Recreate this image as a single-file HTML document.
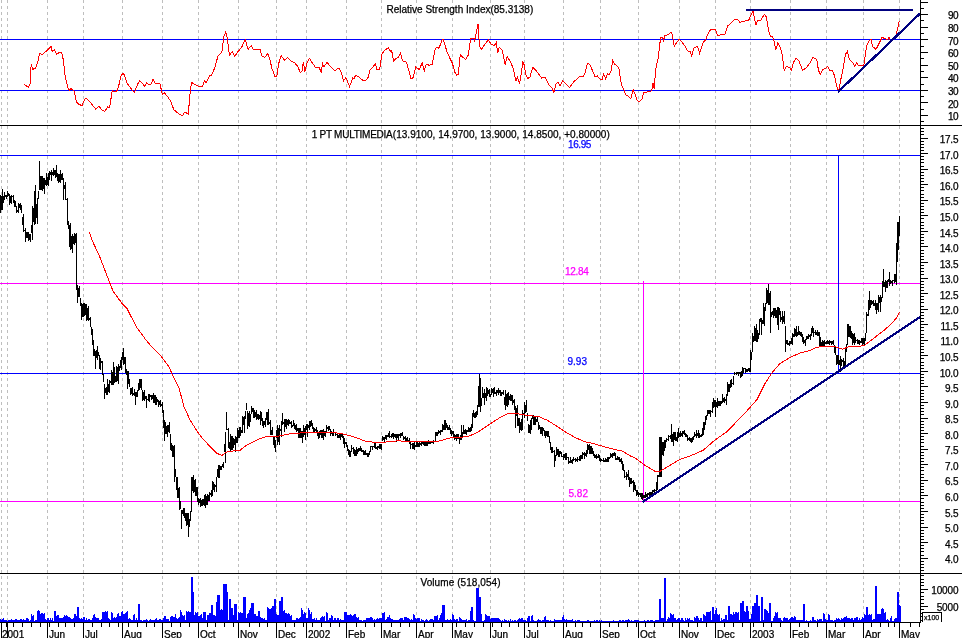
<!DOCTYPE html>
<html><head><meta charset="utf-8"><title>1 PT MULTIMEDIA</title>
<style>html,body{margin:0;padding:0;background:#fff}body{width:962px;height:638px;overflow:hidden;font-family:"Liberation Sans",sans-serif}</style>
</head><body>
<svg width="962" height="638" viewBox="0 0 962 638" shape-rendering="crispEdges" style="display:block;will-change:transform">
<rect x="0" y="0" width="962" height="638" fill="#ffffff"/>
<path d="M1.5,0V622M7.5,0V622M47.5,0V622M83.5,0V622M122.5,0V622M162.5,0V622M198.5,0V622M238.5,0V622M276.5,0V622M306.5,0V622M346.5,0V622M381.5,0V622M416.5,0V622M452.5,0V622M490.5,0V622M524.5,0V622M563.5,0V622M600.5,0V622M638.5,0V622M679.5,0V622M715.5,0V622M750.5,0V622M790.5,0V622M826.5,0V622M863.5,0V622M899.5,0V622" stroke="#bebebe" stroke-width="1" stroke-dasharray="3 3" fill="none"/>
<rect x="0" y="39" width="920" height="1" fill="#0000ff"/>
<rect x="0" y="90" width="920" height="1" fill="#0000ff"/>
<rect x="0" y="155" width="920" height="1" fill="#0000ff"/>
<rect x="0" y="373" width="920" height="1" fill="#0000ff"/>
<rect x="0" y="283" width="920" height="1" fill="#ff00ff"/>
<rect x="0" y="501" width="920" height="1" fill="#ff00ff"/>
<rect x="643" y="281" width="1" height="221" fill="#ff00ff"/>
<rect x="838" y="155" width="1" height="219" fill="#0000ff"/>
<path d="M0,622v-3h1v3zM1,622v-2h1v2zM2,622v-3h1v3zM3,622v-4h1v4zM4,622v-2h1v2zM5,622v-2h1v2zM6,622v-2h1v2zM7,622v-1h1v1zM8,622v-2h1v2zM9,622v-2h1v2zM10,622v-2h1v2zM11,622v-3h1v3zM12,622v-2h1v2zM13,622v-2h1v2zM14,622v-2h1v2zM15,622v-3h1v3zM16,622v-3h1v3zM17,622v-2h1v2zM18,622v-2h1v2zM19,622v-2h1v2zM20,622v-3h1v3zM21,622v-3h1v3zM22,622v-2h1v2zM23,622v-3h1v3zM24,622v-2h1v2zM25,622v-2h1v2zM26,622v-4h1v4zM27,622v-4h1v4zM28,622v-3h1v3zM29,622v-1h1v1zM30,622v-2h1v2zM31,622v-8h1v8zM32,622v-6h1v6zM33,622v-7h1v7zM34,622v-1h1v1zM35,622v-2h1v2zM36,622v-2h1v2zM37,622v-11h1v11zM38,622v-12h1v12zM39,622v-11h1v11zM40,622v-8h1v8zM41,622v-9h1v9zM42,622v-9h1v9zM43,622v-8h1v8zM44,622v-9h1v9zM45,622v-3h1v3zM46,622v-2h1v2zM47,622v-4h1v4zM48,622v-4h1v4zM49,622v-2h1v2zM50,622v-4h1v4zM51,622v-2h1v2zM52,622v-4h1v4zM53,622v-1h1v1zM54,622v-11h1v11zM55,622v-11h1v11zM56,622v-6h1v6zM57,622v-7h1v7zM58,622v-7h1v7zM59,622v-4h1v4zM60,622v-4h1v4zM61,622v-4h1v4zM62,622v-4h1v4zM63,622v-5h1v5zM64,622v-7h1v7zM65,622v-6h1v6zM66,622v-7h1v7zM67,622v-6h1v6zM68,622v-5h1v5zM69,622v-5h1v5zM70,622v-4h1v4zM71,622v-3h1v3zM72,622v-3h1v3zM73,622v-4h1v4zM74,622v-8h1v8zM75,622v-8h1v8zM76,622v-6h1v6zM77,622v-15h1v15zM78,622v-15h1v15zM79,622v-4h1v4zM80,622v-3h1v3zM81,622v-4h1v4zM82,622v-3h1v3zM83,622v-5h1v5zM84,622v-5h1v5zM85,622v-2h1v2zM86,622v-4h1v4zM87,622v-2h1v2zM88,622v-3h1v3zM89,622v-3h1v3zM90,622v-2h1v2zM91,622v-2h1v2zM92,622v-4h1v4zM93,622v-7h1v7zM94,622v-8h1v8zM95,622v-5h1v5zM96,622v-4h1v4zM97,622v-4h1v4zM98,622v-4h1v4zM99,622v-2h1v2zM100,622v-2h1v2zM101,622v-3h1v3zM102,622v-10h1v10zM103,622v-10h1v10zM104,622v-10h1v10zM105,622v-11h1v11zM106,622v-10h1v10zM107,622v-11h1v11zM108,622v-4h1v4zM109,622v-3h1v3zM110,622v-2h1v2zM111,622v-10h1v10zM112,622v-9h1v9zM113,622v-4h1v4zM114,622v-5h1v5zM115,622v-4h1v4zM116,622v-5h1v5zM117,622v-8h1v8zM118,622v-9h1v9zM119,622v-6h1v6zM120,622v-6h1v6zM121,622v-10h1v10zM122,622v-11h1v11zM123,622v-8h1v8zM124,622v-8h1v8zM125,622v-9h1v9zM126,622v-10h1v10zM127,622v-11h1v11zM128,622v-3h1v3zM129,622v-4h1v4zM130,622v-3h1v3zM131,622v-2h1v2zM132,622v-2h1v2zM133,622v-7h1v7zM134,622v-8h1v8zM135,622v-2h1v2zM136,622v-4h1v4zM137,622v-2h1v2zM138,622v-18h1v18zM139,622v-18h1v18zM140,622v-2h1v2zM141,622v-2h1v2zM142,622v-1h1v1zM143,622v-2h1v2zM144,622v-2h1v2zM145,622v-2h1v2zM146,622v-3h1v3zM147,622v-2h1v2zM148,622v-1h1v1zM149,622v-2h1v2zM150,622v-3h1v3zM151,622v-2h1v2zM152,622v-2h1v2zM153,622v-2h1v2zM154,622v-2h1v2zM155,622v-3h1v3zM156,622v-4h1v4zM157,622v-2h1v2zM158,622v-2h1v2zM159,622v-3h1v3zM160,622v-3h1v3zM161,622v-2h1v2zM162,622v-2h1v2zM163,622v-4h1v4zM164,622v-6h1v6zM165,622v-6h1v6zM166,622v-3h1v3zM167,622v-3h1v3zM168,622v-3h1v3zM169,622v-1h1v1zM170,622v-5h1v5zM171,622v-6h1v6zM172,622v-6h1v6zM173,622v-5h1v5zM174,622v-5h1v5zM175,622v-8h1v8zM176,622v-4h1v4zM177,622v-3h1v3zM178,622v-4h1v4zM179,622v-5h1v5zM180,622v-12h1v12zM181,622v-10h1v10zM182,622v-7h1v7zM183,622v-6h1v6zM184,622v-7h1v7zM185,622v-2h1v2zM186,622v-11h1v11zM187,622v-10h1v10zM188,622v-11h1v11zM189,622v-10h1v10zM190,622v-10h1v10zM191,622v-45h1v45zM192,622v-45h1v45zM193,622v-30h1v30zM194,622v-7h1v7zM195,622v-10h1v10zM196,622v-9h1v9zM197,622v-10h1v10zM198,622v-6h1v6zM199,622v-6h1v6zM200,622v-7h1v7zM201,622v-8h1v8zM202,622v-4h1v4zM203,622v-10h1v10zM204,622v-10h1v10zM205,622v-10h1v10zM206,622v-2h1v2zM207,622v-7h1v7zM208,622v-7h1v7zM209,622v-9h1v9zM210,622v-9h1v9zM211,622v-17h1v17zM212,622v-17h1v17zM213,622v-7h1v7zM214,622v-7h1v7zM215,622v-6h1v6zM216,622v-20h1v20zM217,622v-27h1v27zM218,622v-27h1v27zM219,622v-27h1v27zM220,622v-12h1v12zM221,622v-13h1v13zM222,622v-12h1v12zM223,622v-38h1v38zM224,622v-38h1v38zM225,622v-38h1v38zM226,622v-38h1v38zM227,622v-30h1v30zM228,622v-2h1v2zM229,622v-23h1v23zM230,622v-23h1v23zM231,622v-14h1v14zM232,622v-14h1v14zM233,622v-7h1v7zM234,622v-18h1v18zM235,622v-18h1v18zM236,622v-18h1v18zM237,622v-2h1v2zM238,622v-10h1v10zM239,622v-9h1v9zM240,622v-10h1v10zM241,622v-9h1v9zM242,622v-9h1v9zM243,622v-25h1v25zM244,622v-25h1v25zM245,622v-25h1v25zM246,622v-4h1v4zM247,622v-8h1v8zM248,622v-9h1v9zM249,622v-12h1v12zM250,622v-14h1v14zM251,622v-19h1v19zM252,622v-19h1v19zM253,622v-19h1v19zM254,622v-8h1v8zM255,622v-8h1v8zM256,622v-6h1v6zM257,622v-6h1v6zM258,622v-11h1v11zM259,622v-11h1v11zM260,622v-5h1v5zM261,622v-4h1v4zM262,622v-4h1v4zM263,622v-3h1v3zM264,622v-4h1v4zM265,622v-2h1v2zM266,622v-2h1v2zM267,622v-15h1v15zM268,622v-14h1v14zM269,622v-13h1v13zM270,622v-13h1v13zM271,622v-14h1v14zM272,622v-16h1v16zM273,622v-16h1v16zM274,622v-23h1v23zM275,622v-23h1v23zM276,622v-8h1v8zM277,622v-7h1v7zM278,622v-7h1v7zM279,622v-21h1v21zM280,622v-21h1v21zM281,622v-25h1v25zM282,622v-25h1v25zM283,622v-11h1v11zM284,622v-12h1v12zM285,622v-9h1v9zM286,622v-9h1v9zM287,622v-8h1v8zM288,622v-9h1v9zM289,622v-8h1v8zM290,622v-6h1v6zM291,622v-7h1v7zM292,622v-2h1v2zM293,622v-2h1v2zM294,622v-2h1v2zM295,622v-2h1v2zM296,622v-4h1v4zM297,622v-4h1v4zM298,622v-3h1v3zM299,622v-4h1v4zM300,622v-5h1v5zM301,622v-14h1v14zM302,622v-12h1v12zM303,622v-8h1v8zM304,622v-10h1v10zM305,622v-9h1v9zM306,622v-4h1v4zM307,622v-4h1v4zM308,622v-14h1v14zM309,622v-12h1v12zM310,622v-8h1v8zM311,622v-10h1v10zM312,622v-3h1v3zM313,622v-3h1v3zM314,622v-4h1v4zM315,622v-2h1v2zM316,622v-4h1v4zM317,622v-2h1v2zM318,622v-2h1v2zM319,622v-2h1v2zM320,622v-4h1v4zM321,622v-5h1v5zM322,622v-6h1v6zM323,622v-5h1v5zM324,622v-6h1v6zM325,622v-1h1v1zM326,622v-10h1v10zM327,622v-9h1v9zM328,622v-2h1v2zM329,622v-4h1v4zM330,622v-4h1v4zM331,622v-7h1v7zM332,622v-6h1v6zM333,622v-2h1v2zM334,622v-4h1v4zM335,622v-4h1v4zM336,622v-2h1v2zM337,622v-4h1v4zM338,622v-4h1v4zM339,622v-2h1v2zM340,622v-3h1v3zM341,622v-2h1v2zM342,622v-2h1v2zM343,622v-2h1v2zM344,622v-10h1v10zM345,622v-10h1v10zM346,622v-10h1v10zM347,622v-7h1v7zM348,622v-7h1v7zM349,622v-7h1v7zM350,622v-8h1v8zM351,622v-7h1v7zM352,622v-6h1v6zM353,622v-7h1v7zM354,622v-8h1v8zM355,622v-8h1v8zM356,622v-5h1v5zM357,622v-4h1v4zM358,622v-5h1v5zM359,622v-2h1v2zM360,622v-2h1v2zM361,622v-2h1v2zM362,622v-1h1v1zM363,622v-2h1v2zM364,622v-2h1v2zM365,622v-2h1v2zM366,622v-4h1v4zM367,622v-4h1v4zM368,622v-4h1v4zM369,622v-4h1v4zM370,622v-5h1v5zM371,622v-5h1v5zM372,622v-4h1v4zM373,622v-2h1v2zM374,622v-3h1v3zM375,622v-2h1v2zM376,622v-3h1v3zM377,622v-4h1v4zM378,622v-3h1v3zM379,622v-4h1v4zM380,622v-4h1v4zM381,622v-4h1v4zM382,622v-9h1v9zM383,622v-9h1v9zM384,622v-10h1v10zM385,622v-2h1v2zM386,622v-3h1v3zM387,622v-5h1v5zM388,622v-5h1v5zM389,622v-7h1v7zM390,622v-4h1v4zM391,622v-3h1v3zM392,622v-3h1v3zM393,622v-2h1v2zM394,622v-2h1v2zM395,622v-2h1v2zM396,622v-2h1v2zM397,622v-2h1v2zM398,622v-2h1v2zM399,622v-3h1v3zM400,622v-4h1v4zM401,622v-4h1v4zM402,622v-4h1v4zM403,622v-2h1v2zM404,622v-5h1v5zM405,622v-5h1v5zM406,622v-5h1v5zM407,622v-4h1v4zM408,622v-4h1v4zM409,622v-3h1v3zM410,622v-2h1v2zM411,622v-3h1v3zM412,622v-2h1v2zM413,622v-8h1v8zM414,622v-7h1v7zM415,622v-4h1v4zM416,622v-3h1v3zM417,622v-4h1v4zM418,622v-4h1v4zM419,622v-4h1v4zM420,622v-1h1v1zM421,622v-3h1v3zM422,622v-2h1v2zM423,622v-2h1v2zM424,622v-1h1v1zM425,622v-2h1v2zM426,622v-3h1v3zM427,622v-2h1v2zM428,622v-1h1v1zM429,622v-2h1v2zM430,622v-3h1v3zM431,622v-3h1v3zM432,622v-3h1v3zM433,622v-2h1v2zM434,622v-6h1v6zM435,622v-6h1v6zM436,622v-6h1v6zM437,622v-7h1v7zM438,622v-2h1v2zM439,622v-4h1v4zM440,622v-7h1v7zM441,622v-9h1v9zM442,622v-17h1v17zM443,622v-17h1v17zM444,622v-17h1v17zM445,622v-2h1v2zM446,622v-2h1v2zM447,622v-3h1v3zM448,622v-2h1v2zM449,622v-2h1v2zM450,622v-3h1v3zM451,622v-2h1v2zM452,622v-8h1v8zM453,622v-7h1v7zM454,622v-3h1v3zM455,622v-2h1v2zM456,622v-3h1v3zM457,622v-3h1v3zM458,622v-1h1v1zM459,622v-5h1v5zM460,622v-4h1v4zM461,622v-3h1v3zM462,622v-2h1v2zM463,622v-2h1v2zM464,622v-2h1v2zM465,622v-2h1v2zM466,622v-3h1v3zM467,622v-1h1v1zM468,622v-2h1v2zM469,622v-2h1v2zM470,622v-11h1v11zM471,622v-15h1v15zM472,622v-15h1v15zM473,622v-2h1v2zM474,622v-1h1v1zM475,622v-1h1v1zM476,622v-34h1v34zM477,622v-34h1v34zM478,622v-34h1v34zM479,622v-25h1v25zM480,622v-25h1v25zM481,622v-8h1v8zM482,622v-1h1v1zM483,622v-1h1v1zM484,622v-2h1v2zM485,622v-8h1v8zM486,622v-7h1v7zM487,622v-6h1v6zM488,622v-6h1v6zM489,622v-6h1v6zM490,622v-3h1v3zM491,622v-4h1v4zM492,622v-4h1v4zM493,622v-4h1v4zM494,622v-4h1v4zM495,622v-4h1v4zM496,622v-4h1v4zM497,622v-4h1v4zM498,622v-4h1v4zM499,622v-3h1v3zM500,622v-2h1v2zM501,622v-1h1v1zM502,622v-2h1v2zM503,622v-1h1v1zM504,622v-3h1v3zM505,622v-2h1v2zM506,622v-2h1v2zM507,622v-1h1v1zM508,622v-2h1v2zM509,622v-1h1v1zM510,622v-3h1v3zM511,622v-1h1v1zM512,622v-2h1v2zM513,622v-1h1v1zM514,622v-2h1v2zM515,622v-2h1v2zM516,622v-1h1v1zM517,622v-2h1v2zM518,622v-3h1v3zM519,622v-4h1v4zM520,622v-3h1v3zM521,622v-4h1v4zM522,622v-4h1v4zM523,622v-2h1v2zM524,622v-2h1v2zM525,622v-2h1v2zM526,622v-1h1v1zM527,622v-4h1v4zM528,622v-6h1v6zM529,622v-6h1v6zM530,622v-1h1v1zM531,622v-6h1v6zM532,622v-7h1v7zM533,622v-2h1v2zM534,622v-1h1v1zM535,622v-1h1v1zM536,622v-1h1v1zM537,622v-2h1v2zM538,622v-3h1v3zM539,622v-2h1v2zM540,622v-2h1v2zM541,622v-1h1v1zM542,622v-2h1v2zM543,622v-2h1v2zM544,622v-5h1v5zM545,622v-6h1v6zM546,622v-2h1v2zM547,622v-2h1v2zM548,622v-2h1v2zM549,622v-1h1v1zM550,622v-2h1v2zM551,622v-1h1v1zM552,622v-1h1v1zM553,622v-1h1v1zM554,622v-3h1v3zM555,622v-2h1v2zM556,622v-2h1v2zM557,622v-2h1v2zM558,622v-2h1v2zM559,622v-2h1v2zM560,622v-2h1v2zM561,622v-2h1v2zM562,622v-5h1v5zM563,622v-7h1v7zM564,622v-3h1v3zM565,622v-2h1v2zM566,622v-3h1v3zM567,622v-2h1v2zM568,622v-2h1v2zM569,622v-2h1v2zM570,622v-2h1v2zM571,622v-2h1v2zM572,622v-3h1v3zM573,622v-1h1v1zM574,622v-1h1v1zM575,622v-2h1v2zM576,622v-1h1v1zM577,622v-2h1v2zM578,622v-2h1v2zM579,622v-2h1v2zM580,622v-1h1v1zM581,622v-1h1v1zM582,622v-1h1v1zM583,622v-1h1v1zM584,622v-1h1v1zM585,622v-1h1v1zM586,622v-1h1v1zM587,622v-2h1v2zM588,622v-2h1v2zM589,622v-1h1v1zM590,622v-1h1v1zM591,622v-1h1v1zM592,622v-1h1v1zM593,622v-1h1v1zM594,622v-2h1v2zM595,622v-1h1v1zM596,622v-2h1v2zM597,622v-2h1v2zM598,622v-1h1v1zM599,622v-2h1v2zM600,622v-1h1v1zM601,622v-2h1v2zM602,622v-1h1v1zM603,622v-1h1v1zM604,622v-1h1v1zM605,622v-1h1v1zM606,622v-1h1v1zM607,622v-1h1v1zM608,622v-1h1v1zM609,622v-1h1v1zM610,622v-1h1v1zM611,622v-1h1v1zM612,622v-1h1v1zM613,622v-2h1v2zM614,622v-1h1v1zM615,622v-1h1v1zM616,622v-1h1v1zM617,622v-1h1v1zM618,622v-1h1v1zM619,622v-2h1v2zM620,622v-2h1v2zM621,622v-1h1v1zM622,622v-2h1v2zM623,622v-2h1v2zM624,622v-1h1v1zM625,622v-2h1v2zM626,622v-2h1v2zM627,622v-2h1v2zM628,622v-3h1v3zM629,622v-2h1v2zM630,622v-1h1v1zM631,622v-2h1v2zM632,622v-1h1v1zM633,622v-1h1v1zM634,622v-2h1v2zM635,622v-2h1v2zM636,622v-2h1v2zM637,622v-2h1v2zM638,622v-2h1v2zM639,622v-1h1v1zM640,622v-1h1v1zM641,622v-1h1v1zM642,622v-1h1v1zM643,622v-1h1v1zM644,622v-2h1v2zM645,622v-1h1v1zM646,622v-1h1v1zM647,622v-2h1v2zM648,622v-2h1v2zM649,622v-1h1v1zM650,622v-2h1v2zM651,622v-2h1v2zM652,622v-2h1v2zM653,622v-1h1v1zM654,622v-1h1v1zM655,622v-2h1v2zM656,622v-2h1v2zM657,622v-2h1v2zM658,622v-2h1v2zM659,622v-23h1v23zM660,622v-23h1v23zM661,622v-4h1v4zM662,622v-4h1v4zM663,622v-4h1v4zM664,622v-44h1v44zM665,622v-44h1v44zM666,622v-1h1v1zM667,622v-3h1v3zM668,622v-5h1v5zM669,622v-4h1v4zM670,622v-9h1v9zM671,622v-8h1v8zM672,622v-7h1v7zM673,622v-8h1v8zM674,622v-4h1v4zM675,622v-4h1v4zM676,622v-2h1v2zM677,622v-3h1v3zM678,622v-4h1v4zM679,622v-4h1v4zM680,622v-2h1v2zM681,622v-4h1v4zM682,622v-4h1v4zM683,622v-2h1v2zM684,622v-1h1v1zM685,622v-4h1v4zM686,622v-2h1v2zM687,622v-4h1v4zM688,622v-3h1v3zM689,622v-4h1v4zM690,622v-2h1v2zM691,622v-2h1v2zM692,622v-2h1v2zM693,622v-1h1v1zM694,622v-5h1v5zM695,622v-4h1v4zM696,622v-6h1v6zM697,622v-6h1v6zM698,622v-4h1v4zM699,622v-2h1v2zM700,622v-4h1v4zM701,622v-4h1v4zM702,622v-1h1v1zM703,622v-8h1v8zM704,622v-7h1v7zM705,622v-6h1v6zM706,622v-10h1v10zM707,622v-10h1v10zM708,622v-10h1v10zM709,622v-10h1v10zM710,622v-11h1v11zM711,622v-2h1v2zM712,622v-15h1v15zM713,622v-15h1v15zM714,622v-8h1v8zM715,622v-12h1v12zM716,622v-14h1v14zM717,622v-8h1v8zM718,622v-7h1v7zM719,622v-8h1v8zM720,622v-1h1v1zM721,622v-4h1v4zM722,622v-2h1v2zM723,622v-3h1v3zM724,622v-3h1v3zM725,622v-7h1v7zM726,622v-7h1v7zM727,622v-2h1v2zM728,622v-16h1v16zM729,622v-16h1v16zM730,622v-8h1v8zM731,622v-8h1v8zM732,622v-7h1v7zM733,622v-10h1v10zM734,622v-8h1v8zM735,622v-10h1v10zM736,622v-10h1v10zM737,622v-9h1v9zM738,622v-10h1v10zM739,622v-2h1v2zM740,622v-19h1v19zM741,622v-19h1v19zM742,622v-21h1v21zM743,622v-21h1v21zM744,622v-11h1v11zM745,622v-10h1v10zM746,622v-16h1v16zM747,622v-16h1v16zM748,622v-11h1v11zM749,622v-3h1v3zM750,622v-3h1v3zM751,622v-8h1v8zM752,622v-16h1v16zM753,622v-16h1v16zM754,622v-19h1v19zM755,622v-19h1v19zM756,622v-27h1v27zM757,622v-27h1v27zM758,622v-16h1v16zM759,622v-16h1v16zM760,622v-1h1v1zM761,622v-25h1v25zM762,622v-25h1v25zM763,622v-2h1v2zM764,622v-13h1v13zM765,622v-13h1v13zM766,622v-12h1v12zM767,622v-11h1v11zM768,622v-9h1v9zM769,622v-19h1v19zM770,622v-19h1v19zM771,622v-1h1v1zM772,622v-1h1v1zM773,622v-4h1v4zM774,622v-6h1v6zM775,622v-10h1v10zM776,622v-9h1v9zM777,622v-10h1v10zM778,622v-4h1v4zM779,622v-4h1v4zM780,622v-4h1v4zM781,622v-2h1v2zM782,622v-1h1v1zM783,622v-4h1v4zM784,622v-5h1v5zM785,622v-4h1v4zM786,622v-4h1v4zM787,622v-4h1v4zM788,622v-2h1v2zM789,622v-3h1v3zM790,622v-4h1v4zM791,622v-5h1v5zM792,622v-5h1v5zM793,622v-4h1v4zM794,622v-6h1v6zM795,622v-5h1v5zM796,622v-2h1v2zM797,622v-2h1v2zM798,622v-2h1v2zM799,622v-2h1v2zM800,622v-2h1v2zM801,622v-2h1v2zM802,622v-2h1v2zM803,622v-18h1v18zM804,622v-18h1v18zM805,622v-1h1v1zM806,622v-2h1v2zM807,622v-1h1v1zM808,622v-1h1v1zM809,622v-1h1v1zM810,622v-2h1v2zM811,622v-1h1v1zM812,622v-5h1v5zM813,622v-5h1v5zM814,622v-2h1v2zM815,622v-2h1v2zM816,622v-1h1v1zM817,622v-3h1v3zM818,622v-2h1v2zM819,622v-3h1v3zM820,622v-3h1v3zM821,622v-3h1v3zM822,622v-1h1v1zM823,622v-9h1v9zM824,622v-8h1v8zM825,622v-3h1v3zM826,622v-2h1v2zM827,622v-2h1v2zM828,622v-8h1v8zM829,622v-7h1v7zM830,622v-2h1v2zM831,622v-2h1v2zM832,622v-2h1v2zM833,622v-1h1v1zM834,622v-2h1v2zM835,622v-2h1v2zM836,622v-4h1v4zM837,622v-3h1v3zM838,622v-4h1v4zM839,622v-3h1v3zM840,622v-2h1v2zM841,622v-4h1v4zM842,622v-3h1v3zM843,622v-4h1v4zM844,622v-5h1v5zM845,622v-5h1v5zM846,622v-6h1v6zM847,622v-4h1v4zM848,622v-4h1v4zM849,622v-4h1v4zM850,622v-3h1v3zM851,622v-4h1v4zM852,622v-4h1v4zM853,622v-2h1v2zM854,622v-4h1v4zM855,622v-4h1v4zM856,622v-5h1v5zM857,622v-5h1v5zM858,622v-2h1v2zM859,622v-4h1v4zM860,622v-2h1v2zM861,622v-3h1v3zM862,622v-5h1v5zM863,622v-4h1v4zM864,622v-8h1v8zM865,622v-7h1v7zM866,622v-15h1v15zM867,622v-15h1v15zM868,622v-7h1v7zM869,622v-8h1v8zM870,622v-7h1v7zM871,622v-8h1v8zM872,622v-2h1v2zM873,622v-3h1v3zM874,622v-3h1v3zM875,622v-36h1v36zM876,622v-36h1v36zM877,622v-8h1v8zM878,622v-8h1v8zM879,622v-8h1v8zM880,622v-8h1v8zM881,622v-13h1v13zM882,622v-14h1v14zM883,622v-13h1v13zM884,622v-9h1v9zM885,622v-10h1v10zM886,622v-2h1v2zM887,622v-3h1v3zM888,622v-2h1v2zM889,622v-1h1v1zM890,622v-4h1v4zM891,622v-6h1v6zM892,622v-1h1v1zM893,622v-1h1v1zM894,622v-3h1v3zM895,622v-4h1v4zM896,622v-4h1v4zM897,622v-30h1v30zM898,622v-30h1v30zM899,622v-17h1v17zM900,622v-16h1v16z" fill="#0000ff" stroke="none"/>
<polyline points="24.1,84.3 28.6,87.3 30.0,84.0 31.2,64.2 32.6,69.5 35.5,68.0 37.5,63.2 39.5,53.7 42.5,54.3 46.4,51.0 49.4,48.0 51.0,46.4 52.3,51.7 54.3,49.4 56.9,54.3 59.3,52.3 61.6,52.3 63.2,59.3 65.2,77.0 68.1,87.9 69.1,90.5 71.1,88.5 74.1,91.2 76.6,102.3 79.0,104.3 82.0,105.7 85.3,98.2 87.9,99.7 90.9,103.1 95.8,109.2 98.8,106.3 101.7,109.6 104.7,111.6 107.6,106.7 109.6,107.6 112.2,90.9 116.5,91.8 118.5,86.9 120.9,76.0 122.9,73.1 124.4,75.1 127.4,83.9 131.3,88.9 134.3,92.4 137.3,84.9 139.6,80.6 142.2,83.0 144.6,86.5 146.6,82.6 148.5,84.5 151.1,83.9 153.1,79.4 155.0,83.0 158.0,83.5 160.0,83.9 162.4,94.8 164.3,92.8 167.9,96.8 170.8,101.7 173.8,109.6 176.8,112.2 179.7,114.6 182.7,115.5 184.1,112.6 186.6,113.0 188.3,114.2 189.9,94.8 191.5,82.4 194.8,84.5 198.8,86.5 202.1,86.9 204.7,80.6 206.1,83.0 209.6,75.4 211.6,75.1 214.6,68.1 217.9,56.3 221.9,52.3 223.8,36.5 225.8,32.0 227.4,38.5 229.4,55.3 232.3,51.7 234.9,56.3 237.3,52.3 241.6,47.4 245.2,39.5 248.1,49.4 251.1,45.8 253.1,49.0 258.0,49.4 260.0,49.4 262.0,56.3 264.9,57.3 267.9,53.3 269.9,59.3 271.8,68.1 274.8,76.0 276.8,76.0 278.8,63.2 281.1,55.7 284.7,60.2 287.6,57.3 291.6,61.6 294.6,62.8 297.5,66.2 300.5,72.7 302.1,70.7 303.4,61.6 304.8,72.1 306.8,63.2 309.4,58.3 312.3,62.8 315.3,67.2 319.2,67.7 321.2,72.1 322.6,63.6 323.8,66.8 327.1,62.2 330.1,66.2 335.0,71.1 337.0,68.7 339.6,68.7 341.6,73.5 343.5,81.0 345.9,77.4 349.5,86.5 351.4,82.0 352.8,78.0 353.8,79.0 355.8,75.1 358.7,77.0 362.4,80.0 365.5,80.6 367.9,78.0 369.9,70.1 372.8,67.2 375.4,63.6 376.8,69.5 379.8,69.1 381.7,54.3 384.7,50.4 388.6,47.4 390.0,51.4 391.6,50.4 393.6,60.8 395.6,58.9 398.5,57.3 400.5,53.3 402.5,60.8 406.4,62.2 409.0,71.1 411.0,79.0 412.9,78.0 415.7,67.2 419.3,69.5 422.2,62.8 424.2,71.1 426.2,64.2 429.1,65.2 432.1,64.2 435.1,49.4 437.0,47.0 439.0,48.4 442.0,39.9 443.3,39.9 446.9,51.4 449.9,58.3 452.4,63.2 454.8,72.1 456.8,75.1 458.2,74.7 460.3,54.3 462.7,57.3 465.7,59.3 468.2,55.3 470.6,38.5 473.6,38.1 474.6,40.5 476.5,31.6 478.1,24.1 479.5,46.4 481.5,49.4 485.4,43.5 488.4,39.9 491.3,44.4 494.3,45.4 496.3,42.5 497.7,53.3 499.2,47.4 502.2,50.4 505.2,65.2 507.1,56.3 510.1,61.2 513.1,68.1 516.0,81.0 517.4,77.0 519.6,83.4 521.0,75.1 522.9,62.2 524.3,65.2 525.9,75.1 527.9,78.6 529.9,77.0 532.8,67.5 535.8,70.1 538.7,74.1 541.7,78.0 543.0,77.0 545.5,78.0 548.9,84.9 551.9,87.9 553.8,92.4 555.8,84.5 557.8,82.0 559.8,85.9 562.7,81.0 565.7,83.9 569.6,87.3 573.6,82.0 579.5,76.6 583.5,76.0 585.4,72.1 587.4,63.6 589.8,64.2 592.3,70.1 594.9,76.6 597.3,76.0 600.2,79.0 602.2,79.0 603.6,74.1 605.8,79.0 607.5,73.5 609.1,74.7 611.1,71.1 612.7,60.2 614.7,64.2 617.4,66.2 619.0,69.1 621.4,84.9 623.9,89.9 625.9,94.8 628.9,96.8 630.9,98.8 633.2,89.3 634.8,93.8 636.8,99.7 638.8,101.7 641.7,99.7 643.7,92.8 647.6,91.8 651.6,90.9 653.0,83.4 654.2,88.9 655.5,71.1 656.9,63.2 658.5,57.3 659.5,45.4 660.9,37.5 662.5,37.1 663.4,40.5 664.8,35.9 668.4,34.6 670.8,32.2 672.3,34.6 674.3,46.4 676.7,42.5 679.2,39.1 682.2,42.5 685.2,46.4 687.7,51.0 690.1,51.7 691.7,55.7 694.1,47.4 696.0,47.0 697.6,46.4 699.6,53.3 701.6,47.4 703.5,41.5 705.5,40.5 707.5,34.6 710.3,30.0 712.8,29.2 715.4,29.6 717.4,35.2 719.7,35.2 722.7,34.0 724.9,34.6 727.9,25.7 730.9,23.3 734.8,19.4 737.8,19.8 739.8,22.3 743.7,21.3 748.6,20.3 751.2,14.8 753.0,11.3 754.6,18.8 755.9,24.7 757.9,20.1 760.5,20.7 764.4,14.4 766.4,16.8 768.4,29.6 770.4,36.5 772.3,36.1 774.3,41.5 775.7,50.4 777.7,43.1 780.2,47.4 782.2,54.3 784.2,70.1 786.2,66.8 789.1,67.2 791.5,70.1 793.5,62.2 796.0,58.3 799.0,61.2 802.6,70.1 805.9,68.1 809.9,63.2 812.8,57.3 816.8,59.3 818.4,70.1 820.3,74.7 822.7,69.5 825.7,68.1 827.6,66.2 829.6,70.7 832.2,70.1 834.6,76.0 836.5,84.9 838.5,91.8 840.9,79.0 843.4,67.2 845.4,54.3 847.4,51.4 849.4,59.3 852.7,62.8 854.9,66.2 856.7,62.8 858.3,65.2 863.8,66.2 865.2,55.3 866.6,46.4 868.5,41.5 871.1,39.1 872.5,46.4 876.0,49.4 879.0,43.5 882.0,37.5 884.9,38.5 887.5,39.5 889.1,37.1 890.8,42.5 893.8,39.5 896.2,35.2 897.8,27.7 899.3,20.7" fill="none" stroke="#ff0000" stroke-width="1"/>
<path d="M0,195h1v18h-1zM1,196h1v14h-1zM2,189h1v21h-1zM3,196h1v7h-1zM4,192h1v8h-1zM5,195h1v2h-1zM6,195h1v4h-1zM7,191h1v6h-1zM8,193h1v3h-1zM9,194h1v11h-1zM10,196h1v7h-1zM11,195h1v9h-1zM12,196h1v1h-1zM13,195h1v8h-1zM14,200h1v7h-1zM15,201h1v6h-1zM16,206h1v7h-1zM17,210h1v2h-1zM18,203h1v10h-1zM19,204h1v4h-1zM20,203h1v7h-1zM21,205h1v8h-1zM22,217h1v8h-1zM23,214h1v18h-1zM24,230h1v1h-1zM25,228h1v14h-1zM26,232h1v6h-1zM27,232h1v6h-1zM28,232h1v9h-1zM29,234h1v6h-1zM30,234h1v8h-1zM31,225h1v8h-1zM32,206h1v34h-1zM33,208h1v14h-1zM34,191h1v34h-1zM35,185h1v39h-1zM36,204h1v14h-1zM37,198h1v26h-1zM38,191h1v8h-1zM39,161h1v29h-1zM40,176h1v14h-1zM41,176h1v14h-1zM42,176h1v15h-1zM43,178h1v11h-1zM44,178h1v16h-1zM45,180h1v5h-1zM46,173h1v13h-1zM47,177h1v8h-1zM48,173h1v13h-1zM49,171h1v9h-1zM50,172h1v3h-1zM51,170h1v11h-1zM52,172h1v3h-1zM53,168h1v8h-1zM54,170h1v5h-1zM55,170h1v8h-1zM56,165h1v12h-1zM57,173h1v8h-1zM58,174h1v9h-1zM59,174h1v8h-1zM60,170h1v13h-1zM61,174h1v6h-1zM62,173h1v7h-1zM63,178h1v22h-1zM64,185h1v4h-1zM65,182h1v18h-1zM66,199h1v1h-1zM67,198h1v27h-1zM68,221h1v8h-1zM69,225h1v22h-1zM70,223h1v27h-1zM71,236h1v13h-1zM72,234h1v19h-1zM73,236h1v8h-1zM74,233h1v12h-1zM75,234h1v9h-1zM76,233h1v20h-1zM76,250h1v40h-1zM77,285h1v18h-1zM78,288h1v9h-1zM79,286h1v11h-1zM80,298h1v8h-1zM81,303h1v17h-1zM82,304h1v13h-1zM83,303h1v14h-1zM84,303h1v13h-1zM85,304h1v11h-1zM86,304h1v17h-1zM87,308h1v12h-1zM88,306h1v15h-1zM89,318h1v2h-1zM90,317h1v10h-1zM91,327h1v8h-1zM92,329h1v16h-1zM93,340h1v16h-1zM94,349h1v7h-1zM95,351h1v18h-1zM96,350h1v8h-1zM97,346h1v14h-1zM98,352h1v4h-1zM99,355h1v14h-1zM100,358h1v12h-1zM101,361h1v2h-1zM102,361h1v14h-1zM103,374h1v8h-1zM104,384h1v15h-1zM105,388h1v5h-1zM106,387h1v8h-1zM107,379h1v16h-1zM108,384h1v8h-1zM109,380h1v13h-1zM110,381h1v2h-1zM111,370h1v15h-1zM112,372h1v13h-1zM113,362h1v23h-1zM114,367h1v16h-1zM115,376h1v6h-1zM116,366h1v16h-1zM117,367h1v14h-1zM118,364h1v20h-1zM119,366h1v5h-1zM120,360h1v8h-1zM121,357h1v13h-1zM122,352h1v8h-1zM123,348h1v17h-1zM124,357h1v7h-1zM125,357h1v16h-1zM126,369h1v6h-1zM127,371h1v18h-1zM128,371h1v13h-1zM129,379h1v8h-1zM130,388h1v7h-1zM131,388h1v6h-1zM132,387h1v9h-1zM133,393h1v2h-1zM134,389h1v7h-1zM135,392h1v13h-1zM136,392h1v5h-1zM137,390h1v7h-1zM138,383h1v8h-1zM139,379h1v11h-1zM140,379h1v9h-1zM141,379h1v11h-1zM142,390h1v11h-1zM143,392h1v8h-1zM144,390h1v11h-1zM145,396h1v3h-1zM146,396h1v12h-1zM147,399h1v1h-1zM148,394h1v7h-1zM149,394h1v8h-1zM150,395h1v2h-1zM151,395h1v5h-1zM152,395h1v4h-1zM153,393h1v10h-1zM154,395h1v8h-1zM155,395h1v10h-1zM156,397h1v8h-1zM157,399h1v3h-1zM158,400h1v7h-1zM159,401h1v4h-1zM160,400h1v7h-1zM161,404h1v2h-1zM162,402h1v11h-1zM163,410h1v18h-1zM164,420h1v21h-1zM165,422h1v12h-1zM166,426h1v8h-1zM167,425h1v12h-1zM168,425h1v7h-1zM169,422h1v11h-1zM170,434h1v16h-1zM171,443h1v8h-1zM172,445h1v12h-1zM173,446h1v11h-1zM174,445h1v12h-1zM174,452h1v30h-1zM175,469h1v8h-1zM176,477h1v13h-1zM177,477h1v21h-1zM178,488h1v10h-1zM179,487h1v23h-1zM180,501h1v8h-1zM181,510h1v19h-1zM182,510h1v4h-1zM183,508h1v8h-1zM184,508h1v10h-1zM185,513h1v8h-1zM186,513h1v13h-1zM187,513h1v12h-1zM188,513h1v13h-1zM188,524h1v13h-1zM189,519h1v8h-1zM190,511h1v10h-1zM191,477h1v35h-1zM192,477h1v14h-1zM193,475h1v18h-1zM194,480h1v12h-1zM195,479h1v17h-1zM196,487h1v9h-1zM197,487h1v15h-1zM198,498h1v7h-1zM199,499h1v4h-1zM200,498h1v9h-1zM201,500h1v6h-1zM202,499h1v7h-1zM203,499h1v6h-1zM204,495h1v11h-1zM205,494h1v14h-1zM206,496h1v9h-1zM207,494h1v11h-1zM208,495h1v6h-1zM209,492h1v9h-1zM210,493h1v2h-1zM211,490h1v7h-1zM212,481h1v15h-1zM213,482h1v8h-1zM214,484h1v8h-1zM215,485h1v2h-1zM216,484h1v8h-1zM216,477h1v9h-1zM217,469h1v8h-1zM218,465h1v13h-1zM219,465h1v13h-1zM220,466h1v4h-1zM221,466h1v4h-1zM222,464h1v3h-1zM223,462h1v6h-1zM224,444h1v8h-1zM225,432h1v31h-1zM226,412h1v18h-1zM227,429h1v1h-1zM228,428h1v20h-1zM229,442h1v7h-1zM230,434h1v18h-1zM231,436h1v14h-1zM232,436h1v14h-1zM233,438h1v10h-1zM234,439h1v6h-1zM235,436h1v16h-1zM236,437h1v6h-1zM237,428h1v15h-1zM238,430h1v8h-1zM239,427h1v11h-1zM240,427h1v9h-1zM241,430h1v3h-1zM242,416h1v17h-1zM243,417h1v8h-1zM244,416h1v17h-1zM245,411h1v8h-1zM246,403h1v7h-1zM247,411h1v18h-1zM248,413h1v13h-1zM249,411h1v16h-1zM250,414h1v8h-1zM251,406h1v8h-1zM252,408h1v4h-1zM253,408h1v10h-1zM254,410h1v8h-1zM255,412h1v5h-1zM256,410h1v10h-1zM257,414h1v5h-1zM258,414h1v6h-1zM259,415h1v4h-1zM260,411h1v14h-1zM261,412h1v9h-1zM262,418h1v8h-1zM263,421h1v7h-1zM264,421h1v4h-1zM265,418h1v9h-1zM266,412h1v8h-1zM267,412h1v13h-1zM268,409h1v16h-1zM269,422h1v2h-1zM270,420h1v15h-1zM271,430h1v5h-1zM272,427h1v8h-1zM273,437h1v8h-1zM274,436h1v12h-1zM275,440h1v12h-1zM276,430h1v8h-1zM277,425h1v20h-1zM278,428h1v14h-1zM279,425h1v20h-1zM280,429h1v2h-1zM281,421h1v16h-1zM282,413h1v12h-1zM283,422h1v2h-1zM284,419h1v13h-1zM285,419h1v8h-1zM286,419h1v10h-1zM287,420h1v5h-1zM288,419h1v7h-1zM289,420h1v4h-1zM290,422h1v2h-1zM291,421h1v7h-1zM292,425h1v2h-1zM293,420h1v6h-1zM294,423h1v6h-1zM295,425h1v5h-1zM296,424h1v8h-1zM297,428h1v3h-1zM298,428h1v10h-1zM299,428h1v10h-1zM300,428h1v10h-1zM301,431h1v7h-1zM302,431h1v12h-1zM303,425h1v12h-1zM304,428h1v7h-1zM305,426h1v14h-1zM306,424h1v6h-1zM307,424h1v13h-1zM308,425h1v3h-1zM309,421h1v9h-1zM310,421h1v6h-1zM311,420h1v6h-1zM312,423h1v6h-1zM313,427h1v5h-1zM314,428h1v4h-1zM315,429h1v2h-1zM316,427h1v5h-1zM317,430h1v6h-1zM318,432h1v7h-1zM319,431h1v7h-1zM320,430h1v5h-1zM321,430h1v8h-1zM322,430h1v8h-1zM323,429h1v11h-1zM324,431h1v5h-1zM325,431h1v6h-1zM326,425h1v7h-1zM327,427h1v2h-1zM328,426h1v5h-1zM329,426h1v4h-1zM330,429h1v7h-1zM331,431h1v3h-1zM332,432h1v4h-1zM333,429h1v7h-1zM334,432h1v1h-1zM335,432h1v4h-1zM336,434h1v1h-1zM337,433h1v5h-1zM338,435h1v3h-1zM339,433h1v5h-1zM340,434h1v6h-1zM341,434h1v3h-1zM342,434h1v4h-1zM343,436h1v8h-1zM344,438h1v10h-1zM345,442h1v2h-1zM346,442h1v5h-1zM347,445h1v6h-1zM348,449h1v6h-1zM349,450h1v7h-1zM350,451h1v6h-1zM351,445h1v7h-1zM352,448h1v1h-1zM353,447h1v7h-1zM354,449h1v7h-1zM355,450h1v6h-1zM356,447h1v9h-1zM357,449h1v5h-1zM358,448h1v4h-1zM359,448h1v3h-1zM360,446h1v5h-1zM361,448h1v4h-1zM362,450h1v2h-1zM363,450h1v5h-1zM364,451h1v4h-1zM365,450h1v5h-1zM366,453h1v2h-1zM367,453h1v4h-1zM368,453h1v4h-1zM369,451h1v4h-1zM370,446h1v6h-1zM371,446h1v1h-1zM372,446h1v4h-1zM373,446h1v1h-1zM374,442h1v6h-1zM375,443h1v6h-1zM376,447h1v2h-1zM377,446h1v4h-1zM378,446h1v2h-1zM379,444h1v5h-1zM380,444h1v5h-1zM381,444h1v6h-1zM382,436h1v5h-1zM383,437h1v3h-1zM384,437h1v5h-1zM385,435h1v4h-1zM386,435h1v5h-1zM387,435h1v2h-1zM388,433h1v4h-1zM389,431h1v7h-1zM390,436h1v1h-1zM391,434h1v4h-1zM392,433h1v4h-1zM393,433h1v6h-1zM394,434h1v3h-1zM395,434h1v4h-1zM396,434h1v8h-1zM397,434h1v4h-1zM398,434h1v6h-1zM399,434h1v2h-1zM400,433h1v5h-1zM401,433h1v3h-1zM402,432h1v4h-1zM403,436h1v4h-1zM404,437h1v2h-1zM405,436h1v5h-1zM406,438h1v3h-1zM407,437h1v4h-1zM408,440h1v2h-1zM409,438h1v6h-1zM410,442h1v7h-1zM411,444h1v1h-1zM412,443h1v6h-1zM413,443h1v6h-1zM414,442h1v8h-1zM415,445h1v2h-1zM416,442h1v5h-1zM417,442h1v5h-1zM418,443h1v4h-1zM419,442h1v5h-1zM420,443h1v2h-1zM421,441h1v5h-1zM422,442h1v2h-1zM423,441h1v4h-1zM424,441h1v5h-1zM425,442h1v4h-1zM426,441h1v5h-1zM427,441h1v5h-1zM428,440h1v4h-1zM429,441h1v3h-1zM430,441h1v3h-1zM431,441h1v2h-1zM432,441h1v2h-1zM433,440h1v4h-1zM434,441h1v1h-1zM435,432h1v10h-1zM436,432h1v4h-1zM437,432h1v4h-1zM438,430h1v4h-1zM439,431h1v2h-1zM440,430h1v5h-1zM441,430h1v2h-1zM442,424h1v8h-1zM443,425h1v5h-1zM444,420h1v10h-1zM445,420h1v10h-1zM446,423h1v5h-1zM447,425h1v5h-1zM448,427h1v3h-1zM449,425h1v5h-1zM450,428h1v6h-1zM451,430h1v6h-1zM452,431h1v3h-1zM453,431h1v6h-1zM454,434h1v6h-1zM455,435h1v4h-1zM456,434h1v7h-1zM457,434h1v5h-1zM458,434h1v5h-1zM459,437h1v7h-1zM460,435h1v5h-1zM461,425h1v15h-1zM462,432h1v5h-1zM463,425h1v9h-1zM464,430h1v4h-1zM465,429h1v5h-1zM466,430h1v5h-1zM467,430h1v2h-1zM468,427h1v5h-1zM469,428h1v4h-1zM470,427h1v5h-1zM471,424h1v7h-1zM472,413h1v15h-1zM473,410h1v7h-1zM474,413h1v5h-1zM475,412h1v6h-1zM476,411h1v6h-1zM477,405h1v10h-1zM478,405h1v2h-1zM478,386h1v21h-1zM479,374h1v33h-1zM479,374h1v33h-1zM480,378h1v34h-1zM480,380h1v32h-1zM481,398h1v8h-1zM482,387h1v11h-1zM483,393h1v5h-1zM484,389h1v16h-1zM485,393h1v5h-1zM486,387h1v14h-1zM487,388h1v8h-1zM488,390h1v4h-1zM489,389h1v8h-1zM490,394h1v3h-1zM491,388h1v7h-1zM492,389h1v4h-1zM493,388h1v9h-1zM494,387h1v7h-1zM495,392h1v2h-1zM496,390h1v6h-1zM497,390h1v3h-1zM498,388h1v7h-1zM499,390h1v3h-1zM500,390h1v6h-1zM501,392h1v4h-1zM502,392h1v2h-1zM503,390h1v5h-1zM504,397h1v8h-1zM505,390h1v20h-1zM506,394h1v12h-1zM507,393h1v14h-1zM508,392h1v13h-1zM509,396h1v4h-1zM510,394h1v7h-1zM511,395h1v6h-1zM512,395h1v10h-1zM513,400h1v3h-1zM514,399h1v11h-1zM515,406h1v22h-1zM516,408h1v8h-1zM517,405h1v21h-1zM518,418h1v8h-1zM519,418h1v15h-1zM520,422h1v8h-1zM521,419h1v12h-1zM522,410h1v20h-1zM523,413h1v1h-1zM524,402h1v16h-1zM525,405h1v8h-1zM526,400h1v12h-1zM527,413h1v8h-1zM528,424h1v9h-1zM529,425h1v8h-1zM530,420h1v14h-1zM531,418h1v12h-1zM532,416h1v3h-1zM533,415h1v10h-1zM534,417h1v8h-1zM535,416h1v9h-1zM536,419h1v3h-1zM537,417h1v5h-1zM538,422h1v8h-1zM539,425h1v4h-1zM540,427h1v7h-1zM541,427h1v7h-1zM542,427h1v9h-1zM543,428h1v3h-1zM544,430h1v6h-1zM545,431h1v7h-1zM546,431h1v5h-1zM547,431h1v6h-1zM548,431h1v6h-1zM549,436h1v7h-1zM550,442h1v8h-1zM551,447h1v6h-1zM552,447h1v6h-1zM553,451h1v1h-1zM554,450h1v17h-1zM555,455h1v6h-1zM556,447h1v9h-1zM557,449h1v6h-1zM558,449h1v8h-1zM559,451h1v6h-1zM560,451h1v3h-1zM561,452h1v5h-1zM562,456h1v1h-1zM563,454h1v6h-1zM564,454h1v4h-1zM565,453h1v7h-1zM566,453h1v7h-1zM567,457h1v1h-1zM568,457h1v7h-1zM569,461h1v2h-1zM570,457h1v6h-1zM571,460h1v3h-1zM572,459h1v5h-1zM573,457h1v4h-1zM574,459h1v1h-1zM575,458h1v4h-1zM576,459h1v2h-1zM577,457h1v5h-1zM578,459h1v1h-1zM579,456h1v5h-1zM580,455h1v6h-1zM581,455h1v4h-1zM582,452h1v7h-1zM583,453h1v2h-1zM584,452h1v7h-1zM585,453h1v3h-1zM586,450h1v7h-1zM587,444h1v10h-1zM588,445h1v5h-1zM589,444h1v10h-1zM590,446h1v8h-1zM591,446h1v8h-1zM592,448h1v6h-1zM593,451h1v5h-1zM594,454h1v4h-1zM595,455h1v3h-1zM596,454h1v5h-1zM597,456h1v2h-1zM598,454h1v4h-1zM599,455h1v6h-1zM600,458h1v4h-1zM601,459h1v2h-1zM602,460h1v1h-1zM603,458h1v4h-1zM604,460h1v2h-1zM605,458h1v4h-1zM606,459h1v3h-1zM607,457h1v5h-1zM608,457h1v5h-1zM609,457h1v2h-1zM610,453h1v5h-1zM611,454h1v3h-1zM612,453h1v5h-1zM613,453h1v3h-1zM614,452h1v4h-1zM615,453h1v7h-1zM616,458h1v2h-1zM617,456h1v4h-1zM618,457h1v3h-1zM619,457h1v5h-1zM620,459h1v3h-1zM621,458h1v6h-1zM622,461h1v9h-1zM623,464h1v7h-1zM624,470h1v8h-1zM625,476h1v1h-1zM626,472h1v8h-1zM627,474h1v3h-1zM628,470h1v10h-1zM629,477h1v10h-1zM630,478h1v6h-1zM631,478h1v6h-1zM632,481h1v2h-1zM633,480h1v12h-1zM634,482h1v8h-1zM635,485h1v6h-1zM636,490h1v6h-1zM637,490h1v5h-1zM638,492h1v5h-1zM639,493h1v2h-1zM640,493h1v4h-1zM641,493h1v6h-1zM642,493h1v7h-1zM643,495h1v3h-1zM644,495h1v3h-1zM645,492h1v6h-1zM646,494h1v3h-1zM647,493h1v4h-1zM648,493h1v2h-1zM649,492h1v4h-1zM650,492h1v4h-1zM651,492h1v4h-1zM652,490h1v4h-1zM653,490h1v2h-1zM654,489h1v6h-1zM655,490h1v1h-1zM656,482h1v10h-1zM657,475h1v15h-1zM658,475h1v2h-1zM659,437h1v40h-1zM659,445h1v31h-1zM660,454h1v1h-1zM660,437h1v40h-1zM661,437h1v40h-1zM662,442h1v13h-1zM663,442h1v14h-1zM664,440h1v11h-1zM665,440h1v8h-1zM666,438h1v4h-1zM667,439h1v1h-1zM668,435h1v6h-1zM669,436h1v1h-1zM670,435h1v4h-1zM671,424h1v18h-1zM672,434h1v8h-1zM673,432h1v14h-1zM674,432h1v8h-1zM675,432h1v9h-1zM676,437h1v4h-1zM677,432h1v10h-1zM678,428h1v10h-1zM679,433h1v4h-1zM680,431h1v6h-1zM681,433h1v3h-1zM682,431h1v6h-1zM683,431h1v3h-1zM684,430h1v5h-1zM685,433h1v4h-1zM686,434h1v3h-1zM687,435h1v6h-1zM688,438h1v2h-1zM689,437h1v4h-1zM690,438h1v4h-1zM691,438h1v5h-1zM692,437h1v5h-1zM693,436h1v4h-1zM694,432h1v5h-1zM695,434h1v2h-1zM696,430h1v8h-1zM697,433h1v3h-1zM698,430h1v8h-1zM699,433h1v5h-1zM700,435h1v2h-1zM701,434h1v3h-1zM702,428h1v8h-1zM703,422h1v13h-1zM704,422h1v8h-1zM705,416h1v9h-1zM706,415h1v5h-1zM707,410h1v6h-1zM708,410h1v4h-1zM709,410h1v4h-1zM710,410h1v7h-1zM711,411h1v1h-1zM712,402h1v11h-1zM713,398h1v10h-1zM714,400h1v7h-1zM715,400h1v17h-1zM716,402h1v5h-1zM717,398h1v10h-1zM718,401h1v5h-1zM719,401h1v5h-1zM720,401h1v5h-1zM721,401h1v3h-1zM722,394h1v9h-1zM723,398h1v4h-1zM724,397h1v6h-1zM725,399h1v2h-1zM726,394h1v11h-1zM727,382h1v14h-1zM728,384h1v8h-1zM729,384h1v8h-1zM730,380h1v8h-1zM731,379h1v8h-1zM732,383h1v1h-1zM733,376h1v9h-1zM734,372h1v3h-1zM735,373h1v1h-1zM736,372h1v3h-1zM737,372h1v2h-1zM738,372h1v4h-1zM739,372h1v2h-1zM740,372h1v6h-1zM741,371h1v6h-1zM742,367h1v9h-1zM743,368h1v5h-1zM744,368h1v1h-1zM745,368h1v5h-1zM746,369h1v3h-1zM747,369h1v3h-1zM748,368h1v3h-1zM749,368h1v4h-1zM750,350h1v22h-1zM751,352h1v8h-1zM752,333h1v19h-1zM753,336h1v6h-1zM754,326h1v15h-1zM755,328h1v13h-1zM756,324h1v18h-1zM757,330h1v12h-1zM758,333h1v6h-1zM759,319h1v16h-1zM760,318h1v4h-1zM761,318h1v17h-1zM762,320h1v4h-1zM763,303h1v21h-1zM764,307h1v19h-1zM765,303h1v8h-1zM766,288h1v16h-1zM767,290h1v13h-1zM768,284h1v21h-1zM769,293h1v12h-1zM770,291h1v42h-1zM771,312h1v5h-1zM772,311h1v4h-1zM773,308h1v10h-1zM774,308h1v8h-1zM775,308h1v10h-1zM776,310h1v8h-1zM777,307h1v18h-1zM778,307h1v23h-1zM779,308h1v7h-1zM780,311h1v11h-1zM781,317h1v3h-1zM782,311h1v13h-1zM783,316h1v6h-1zM784,311h1v13h-1zM785,326h1v26h-1zM786,340h1v4h-1zM787,340h1v5h-1zM788,343h1v2h-1zM789,341h1v5h-1zM790,341h1v3h-1zM791,338h1v6h-1zM792,333h1v12h-1zM793,334h1v3h-1zM794,328h1v9h-1zM795,329h1v7h-1zM796,326h1v11h-1zM797,332h1v4h-1zM798,326h1v9h-1zM799,331h1v4h-1zM800,332h1v4h-1zM801,332h1v5h-1zM802,334h1v8h-1zM803,337h1v7h-1zM804,340h1v3h-1zM805,339h1v7h-1zM806,336h1v4h-1zM807,336h1v3h-1zM808,334h1v5h-1zM809,335h1v2h-1zM810,334h1v6h-1zM811,328h1v8h-1zM812,326h1v7h-1zM813,328h1v9h-1zM814,332h1v1h-1zM815,330h1v5h-1zM816,332h1v3h-1zM817,330h1v6h-1zM818,332h1v4h-1zM819,332h1v14h-1zM820,337h1v10h-1zM821,342h1v4h-1zM822,340h1v6h-1zM823,341h1v5h-1zM824,340h1v6h-1zM825,342h1v2h-1zM826,341h1v3h-1zM827,340h1v4h-1zM828,341h1v3h-1zM829,340h1v5h-1zM830,341h1v2h-1zM831,341h1v4h-1zM832,341h1v3h-1zM833,340h1v5h-1zM834,345h1v8h-1zM835,347h1v8h-1zM836,355h1v10h-1zM837,355h1v9h-1zM838,355h1v10h-1zM839,360h1v5h-1zM840,356h1v16h-1zM841,359h1v7h-1zM842,360h1v2h-1zM843,358h1v9h-1zM844,361h1v6h-1zM845,349h1v16h-1zM846,344h1v8h-1zM847,324h1v21h-1zM848,324h1v13h-1zM849,326h1v11h-1zM850,326h1v12h-1zM851,331h1v8h-1zM852,333h1v12h-1zM853,334h1v9h-1zM854,333h1v12h-1zM855,337h1v6h-1zM856,340h1v1h-1zM857,339h1v5h-1zM858,340h1v4h-1zM859,340h1v5h-1zM860,341h1v2h-1zM861,338h1v5h-1zM862,338h1v7h-1zM863,338h1v6h-1zM864,338h1v8h-1zM865,333h1v8h-1zM866,312h1v21h-1zM867,314h1v2h-1zM868,300h1v16h-1zM869,291h1v19h-1zM870,300h1v8h-1zM871,300h1v5h-1zM872,301h1v3h-1zM873,300h1v6h-1zM874,303h1v3h-1zM875,300h1v10h-1zM876,303h1v11h-1zM877,303h1v7h-1zM878,295h1v17h-1zM879,297h1v6h-1zM880,295h1v17h-1zM881,297h1v5h-1zM882,281h1v17h-1zM883,269h1v18h-1zM884,282h1v5h-1zM885,280h1v12h-1zM886,281h1v7h-1zM887,280h1v8h-1zM888,279h1v3h-1zM889,272h1v14h-1zM890,280h1v4h-1zM891,281h1v2h-1zM892,280h1v6h-1zM893,280h1v1h-1zM894,274h1v9h-1zM895,274h1v8h-1zM896,274h1v11h-1zM896,243h1v37h-1zM896,243h1v39h-1zM897,222h1v28h-1zM897,225h1v37h-1zM898,222h1v8h-1zM898,222h1v28h-1zM899,216h1v16h-1zM899,216h1v20h-1z" fill="#000000" stroke="none"/>
<polyline points="89.5,232.5 92.0,240.0 100.0,257.5 110.0,283.5 113.3,291.7 122.5,304.0 126.7,308.0 136.7,327.5 146.0,340.0 150.8,345.8 160.0,355.0 169.0,366.7 172.0,373.7 179.0,388.0 184.0,406.7 190.0,420.0 198.0,432.5 203.0,439.0 210.0,446.5 216.7,453.3 222.0,455.5 226.7,452.0 233.0,451.0 240.0,450.3 246.7,445.0 256.7,440.0 266.7,436.3 275.0,436.7 283.0,435.3 291.7,433.3 308.0,432.7 325.0,432.7 340.0,433.1 350.0,435.8 358.0,438.3 366.7,441.7 381.7,442.5 398.0,440.8 410.0,441.7 423.0,441.7 438.0,441.3 450.0,438.0 461.7,437.2 470.0,435.8 476.7,432.5 480.0,430.8 486.7,426.3 490.0,424.0 500.0,417.5 508.0,413.7 516.7,413.7 530.0,415.8 538.0,416.3 546.7,420.0 555.0,425.0 565.0,431.7 575.0,437.5 585.0,441.7 595.0,444.0 605.0,447.0 613.0,449.0 623.0,451.3 630.0,455.8 635.0,458.0 645.0,465.3 655.0,471.3 660.0,471.3 670.0,465.3 680.0,459.2 690.0,456.0 703.0,450.4 715.0,440.0 727.0,431.7 735.0,423.3 745.0,413.0 757.0,399.5 765.0,383.5 772.0,372.8 780.0,363.5 790.0,357.5 800.0,353.0 810.0,350.5 817.0,347.2 828.0,346.3 835.0,346.8 842.5,349.2 850.0,346.3 860.0,346.3 865.0,345.0 875.0,337.3 885.0,329.6 893.0,322.0 897.0,317.3 899.5,312.0" fill="none" stroke="#ff0000" stroke-width="1"/>
<line x1="642.5" y1="502" x2="920" y2="317" stroke="#000080" stroke-width="2.3"/>
<line x1="838" y1="92" x2="920" y2="13.5" stroke="#000080" stroke-width="2.3"/>
<rect x="746" y="9" width="167" height="2" fill="#000080"/>
<rect x="0" y="125" width="962" height="1" fill="#000"/>
<rect x="0" y="573" width="962" height="1" fill="#000"/>
<rect x="920" y="0" width="1" height="622" fill="#000"/>
<rect x="0" y="622" width="921" height="1" fill="#000"/>
<path d="M921,115h7v1h-7zM921,109h3v1h-3zM921,102h7v1h-7zM921,96h3v1h-3zM921,90h7v1h-7zM921,84h3v1h-3zM921,77h7v1h-7zM921,71h3v1h-3zM921,65h7v1h-7zM921,58h3v1h-3zM921,52h7v1h-7zM921,46h3v1h-3zM921,39h7v1h-7zM921,33h3v1h-3zM921,27h7v1h-7zM921,20h3v1h-3zM921,14h7v1h-7zM921,8h3v1h-3zM921,2h7v1h-7zM921,121h3v1h-3zM921,570h3v1h-3zM921,567h3v1h-3zM921,564h3v1h-3zM921,561h3v1h-3zM921,558h7v1h-7zM921,555h3v1h-3zM921,551h3v1h-3zM921,548h3v1h-3zM921,545h3v1h-3zM921,542h7v1h-7zM921,539h3v1h-3zM921,536h3v1h-3zM921,533h3v1h-3zM921,530h3v1h-3zM921,527h7v1h-7zM921,523h3v1h-3zM921,520h3v1h-3zM921,517h3v1h-3zM921,514h3v1h-3zM921,511h7v1h-7zM921,508h3v1h-3zM921,505h3v1h-3zM921,502h3v1h-3zM921,498h3v1h-3zM921,495h7v1h-7zM921,492h3v1h-3zM921,489h3v1h-3zM921,486h3v1h-3zM921,483h3v1h-3zM921,480h7v1h-7zM921,477h3v1h-3zM921,474h3v1h-3zM921,470h3v1h-3zM921,467h3v1h-3zM921,464h7v1h-7zM921,461h3v1h-3zM921,458h3v1h-3zM921,455h3v1h-3zM921,452h3v1h-3zM921,449h7v1h-7zM921,446h3v1h-3zM921,442h3v1h-3zM921,439h3v1h-3zM921,436h3v1h-3zM921,433h7v1h-7zM921,430h3v1h-3zM921,427h3v1h-3zM921,424h3v1h-3zM921,421h3v1h-3zM921,418h7v1h-7zM921,414h3v1h-3zM921,411h3v1h-3zM921,408h3v1h-3zM921,405h3v1h-3zM921,402h7v1h-7zM921,399h3v1h-3zM921,396h3v1h-3zM921,393h3v1h-3zM921,390h3v1h-3zM921,386h7v1h-7zM921,383h3v1h-3zM921,380h3v1h-3zM921,377h3v1h-3zM921,374h3v1h-3zM921,371h7v1h-7zM921,368h3v1h-3zM921,365h3v1h-3zM921,362h3v1h-3zM921,358h3v1h-3zM921,355h7v1h-7zM921,352h3v1h-3zM921,349h3v1h-3zM921,346h3v1h-3zM921,343h3v1h-3zM921,340h7v1h-7zM921,337h3v1h-3zM921,334h3v1h-3zM921,330h3v1h-3zM921,327h3v1h-3zM921,324h7v1h-7zM921,321h3v1h-3zM921,318h3v1h-3zM921,315h3v1h-3zM921,312h3v1h-3zM921,309h7v1h-7zM921,306h3v1h-3zM921,302h3v1h-3zM921,299h3v1h-3zM921,296h3v1h-3zM921,293h7v1h-7zM921,290h3v1h-3zM921,287h3v1h-3zM921,284h3v1h-3zM921,281h3v1h-3zM921,278h7v1h-7zM921,274h3v1h-3zM921,271h3v1h-3zM921,268h3v1h-3zM921,265h3v1h-3zM921,262h7v1h-7zM921,259h3v1h-3zM921,256h3v1h-3zM921,253h3v1h-3zM921,250h3v1h-3zM921,246h7v1h-7zM921,243h3v1h-3zM921,240h3v1h-3zM921,237h3v1h-3zM921,234h3v1h-3zM921,231h7v1h-7zM921,228h3v1h-3zM921,225h3v1h-3zM921,222h3v1h-3zM921,218h3v1h-3zM921,215h7v1h-7zM921,212h3v1h-3zM921,209h3v1h-3zM921,206h3v1h-3zM921,203h3v1h-3zM921,200h7v1h-7zM921,197h3v1h-3zM921,194h3v1h-3zM921,190h3v1h-3zM921,187h3v1h-3zM921,184h7v1h-7zM921,181h3v1h-3zM921,178h3v1h-3zM921,175h3v1h-3zM921,172h3v1h-3zM921,169h7v1h-7zM921,166h3v1h-3zM921,162h3v1h-3zM921,159h3v1h-3zM921,156h3v1h-3zM921,153h7v1h-7zM921,150h3v1h-3zM921,147h3v1h-3zM921,144h3v1h-3zM921,141h3v1h-3zM921,138h7v1h-7zM921,134h3v1h-3zM921,131h3v1h-3zM921,128h3v1h-3zM921,620h3v1h-3zM921,616h3v1h-3zM921,613h3v1h-3zM921,609h3v1h-3zM921,606h7v1h-7zM921,603h3v1h-3zM921,599h3v1h-3zM921,596h3v1h-3zM921,592h3v1h-3zM921,589h7v1h-7zM921,585h3v1h-3zM921,582h3v1h-3zM921,579h3v1h-3zM921,575h3v1h-3z" fill="#000"/>
<rect x="923" y="613" width="18" height="9" fill="#fff"/>
<path d="M922,622V612H942V622H941V613H923V622z" fill="#000"/>
<path d="M6,623h1v4h-1zM13,623h1v4h-1zM22,623h1v4h-1zM31,623h1v4h-1zM40,623h1v4h-1zM49,623h1v4h-1zM58,623h1v4h-1zM65,623h1v4h-1zM74,623h1v4h-1zM92,623h1v4h-1zM101,623h1v4h-1zM109,623h1v4h-1zM118,623h1v4h-1zM128,623h1v4h-1zM137,623h1v4h-1zM146,623h1v4h-1zM154,623h1v4h-1zM171,623h1v4h-1zM180,623h1v4h-1zM189,623h1v4h-1zM207,623h1v4h-1zM215,623h1v4h-1zM224,623h1v4h-1zM233,623h1v4h-1zM249,623h1v4h-1zM259,623h1v4h-1zM267,623h1v4h-1zM285,623h1v4h-1zM294,623h1v4h-1zM303,623h1v4h-1zM312,623h1v4h-1zM321,623h1v4h-1zM330,623h1v4h-1zM339,623h1v4h-1zM356,623h1v4h-1zM365,623h1v4h-1zM374,623h1v4h-1zM391,623h1v4h-1zM400,623h1v4h-1zM409,623h1v4h-1zM424,623h1v4h-1zM433,623h1v4h-1zM442,623h1v4h-1zM456,623h1v4h-1zM465,623h1v4h-1zM474,623h1v4h-1zM483,623h1v4h-1zM492,623h1v4h-1zM501,623h1v4h-1zM509,623h1v4h-1zM518,623h1v4h-1zM528,623h1v4h-1zM537,623h1v4h-1zM545,623h1v4h-1zM554,623h1v4h-1zM566,623h1v4h-1zM575,623h1v4h-1zM582,623h1v4h-1zM590,623h1v4h-1zM609,623h1v4h-1zM618,623h1v4h-1zM627,623h1v4h-1zM636,623h1v4h-1zM645,623h1v4h-1zM654,623h1v4h-1zM663,623h1v4h-1zM672,623h1v4h-1zM688,623h1v4h-1zM697,623h1v4h-1zM706,623h1v4h-1zM724,623h1v4h-1zM733,623h1v4h-1zM742,623h1v4h-1zM753,623h1v4h-1zM763,623h1v4h-1zM771,623h1v4h-1zM780,623h1v4h-1zM799,623h1v4h-1zM808,623h1v4h-1zM817,623h1v4h-1zM835,623h1v4h-1zM844,623h1v4h-1zM853,623h1v4h-1zM871,623h1v4h-1zM880,623h1v4h-1zM888,623h1v4h-1zM894,623h1v4h-1zM910,623h1v4h-1zM919,623h1v4h-1zM1,623h1v15h-1zM7,623h1v15h-1zM47,623h1v15h-1zM83,623h1v15h-1zM122,623h1v15h-1zM162,623h1v15h-1zM198,623h1v15h-1zM238,623h1v15h-1zM276,623h1v15h-1zM306,623h1v15h-1zM346,623h1v15h-1zM381,623h1v15h-1zM416,623h1v15h-1zM452,623h1v15h-1zM490,623h1v15h-1zM524,623h1v15h-1zM563,623h1v15h-1zM600,623h1v15h-1zM638,623h1v15h-1zM679,623h1v15h-1zM715,623h1v15h-1zM750,623h1v15h-1zM790,623h1v15h-1zM826,623h1v15h-1zM863,623h1v15h-1zM899,623h1v15h-1z" fill="#000"/>
<g stroke-width="0.25">
<text stroke="#000" x="958.00" y="120.2" text-anchor="end" style="font-family:'Liberation Sans',sans-serif;font-size:10px;letter-spacing:-0.5px" fill="#000">10</text>
<text stroke="#000" x="958.00" y="107.6" text-anchor="end" style="font-family:'Liberation Sans',sans-serif;font-size:10px;letter-spacing:-0.5px" fill="#000">20</text>
<text stroke="#000" x="958.00" y="95.0" text-anchor="end" style="font-family:'Liberation Sans',sans-serif;font-size:10px;letter-spacing:-0.5px" fill="#000">30</text>
<text stroke="#000" x="958.00" y="82.4" text-anchor="end" style="font-family:'Liberation Sans',sans-serif;font-size:10px;letter-spacing:-0.5px" fill="#000">40</text>
<text stroke="#000" x="958.00" y="69.8" text-anchor="end" style="font-family:'Liberation Sans',sans-serif;font-size:10px;letter-spacing:-0.5px" fill="#000">50</text>
<text stroke="#000" x="958.00" y="57.2" text-anchor="end" style="font-family:'Liberation Sans',sans-serif;font-size:10px;letter-spacing:-0.5px" fill="#000">60</text>
<text stroke="#000" x="958.00" y="44.6" text-anchor="end" style="font-family:'Liberation Sans',sans-serif;font-size:10px;letter-spacing:-0.5px" fill="#000">70</text>
<text stroke="#000" x="958.00" y="32.0" text-anchor="end" style="font-family:'Liberation Sans',sans-serif;font-size:10px;letter-spacing:-0.5px" fill="#000">80</text>
<text stroke="#000" x="958.00" y="19.4" text-anchor="end" style="font-family:'Liberation Sans',sans-serif;font-size:10px;letter-spacing:-0.5px" fill="#000">90</text>
<text stroke="#000" x="958.30" y="563.2" text-anchor="end" style="font-family:'Liberation Sans',sans-serif;font-size:10px;letter-spacing:-0.2px" fill="#000">4.0</text>
<text stroke="#000" x="958.30" y="547.7" text-anchor="end" style="font-family:'Liberation Sans',sans-serif;font-size:10px;letter-spacing:-0.2px" fill="#000">4.5</text>
<text stroke="#000" x="958.30" y="532.1" text-anchor="end" style="font-family:'Liberation Sans',sans-serif;font-size:10px;letter-spacing:-0.2px" fill="#000">5.0</text>
<text stroke="#000" x="958.30" y="516.5" text-anchor="end" style="font-family:'Liberation Sans',sans-serif;font-size:10px;letter-spacing:-0.2px" fill="#000">5.5</text>
<text stroke="#000" x="958.30" y="501.0" text-anchor="end" style="font-family:'Liberation Sans',sans-serif;font-size:10px;letter-spacing:-0.2px" fill="#000">6.0</text>
<text stroke="#000" x="958.30" y="485.4" text-anchor="end" style="font-family:'Liberation Sans',sans-serif;font-size:10px;letter-spacing:-0.2px" fill="#000">6.5</text>
<text stroke="#000" x="958.30" y="469.9" text-anchor="end" style="font-family:'Liberation Sans',sans-serif;font-size:10px;letter-spacing:-0.2px" fill="#000">7.0</text>
<text stroke="#000" x="958.30" y="454.3" text-anchor="end" style="font-family:'Liberation Sans',sans-serif;font-size:10px;letter-spacing:-0.2px" fill="#000">7.5</text>
<text stroke="#000" x="958.30" y="438.7" text-anchor="end" style="font-family:'Liberation Sans',sans-serif;font-size:10px;letter-spacing:-0.2px" fill="#000">8.0</text>
<text stroke="#000" x="958.30" y="423.2" text-anchor="end" style="font-family:'Liberation Sans',sans-serif;font-size:10px;letter-spacing:-0.2px" fill="#000">8.5</text>
<text stroke="#000" x="958.30" y="407.6" text-anchor="end" style="font-family:'Liberation Sans',sans-serif;font-size:10px;letter-spacing:-0.2px" fill="#000">9.0</text>
<text stroke="#000" x="958.30" y="392.1" text-anchor="end" style="font-family:'Liberation Sans',sans-serif;font-size:10px;letter-spacing:-0.2px" fill="#000">9.5</text>
<text stroke="#000" x="958.30" y="376.5" text-anchor="end" style="font-family:'Liberation Sans',sans-serif;font-size:10px;letter-spacing:-0.2px" fill="#000">10.0</text>
<text stroke="#000" x="958.30" y="360.9" text-anchor="end" style="font-family:'Liberation Sans',sans-serif;font-size:10px;letter-spacing:-0.2px" fill="#000">10.5</text>
<text stroke="#000" x="958.30" y="345.4" text-anchor="end" style="font-family:'Liberation Sans',sans-serif;font-size:10px;letter-spacing:-0.2px" fill="#000">11.0</text>
<text stroke="#000" x="958.30" y="329.8" text-anchor="end" style="font-family:'Liberation Sans',sans-serif;font-size:10px;letter-spacing:-0.2px" fill="#000">11.5</text>
<text stroke="#000" x="958.30" y="314.3" text-anchor="end" style="font-family:'Liberation Sans',sans-serif;font-size:10px;letter-spacing:-0.2px" fill="#000">12.0</text>
<text stroke="#000" x="958.30" y="298.7" text-anchor="end" style="font-family:'Liberation Sans',sans-serif;font-size:10px;letter-spacing:-0.2px" fill="#000">12.5</text>
<text stroke="#000" x="958.30" y="283.1" text-anchor="end" style="font-family:'Liberation Sans',sans-serif;font-size:10px;letter-spacing:-0.2px" fill="#000">13.0</text>
<text stroke="#000" x="958.30" y="267.6" text-anchor="end" style="font-family:'Liberation Sans',sans-serif;font-size:10px;letter-spacing:-0.2px" fill="#000">13.5</text>
<text stroke="#000" x="958.30" y="252.0" text-anchor="end" style="font-family:'Liberation Sans',sans-serif;font-size:10px;letter-spacing:-0.2px" fill="#000">14.0</text>
<text stroke="#000" x="958.30" y="236.5" text-anchor="end" style="font-family:'Liberation Sans',sans-serif;font-size:10px;letter-spacing:-0.2px" fill="#000">14.5</text>
<text stroke="#000" x="958.30" y="220.9" text-anchor="end" style="font-family:'Liberation Sans',sans-serif;font-size:10px;letter-spacing:-0.2px" fill="#000">15.0</text>
<text stroke="#000" x="958.30" y="205.3" text-anchor="end" style="font-family:'Liberation Sans',sans-serif;font-size:10px;letter-spacing:-0.2px" fill="#000">15.5</text>
<text stroke="#000" x="958.30" y="189.8" text-anchor="end" style="font-family:'Liberation Sans',sans-serif;font-size:10px;letter-spacing:-0.2px" fill="#000">16.0</text>
<text stroke="#000" x="958.30" y="174.2" text-anchor="end" style="font-family:'Liberation Sans',sans-serif;font-size:10px;letter-spacing:-0.2px" fill="#000">16.5</text>
<text stroke="#000" x="958.30" y="158.7" text-anchor="end" style="font-family:'Liberation Sans',sans-serif;font-size:10px;letter-spacing:-0.2px" fill="#000">17.0</text>
<text stroke="#000" x="958.30" y="143.1" text-anchor="end" style="font-family:'Liberation Sans',sans-serif;font-size:10px;letter-spacing:-0.2px" fill="#000">17.5</text>
<text stroke="#000" x="958.35" y="611.2" text-anchor="end" style="font-family:'Liberation Sans',sans-serif;font-size:10px;letter-spacing:-0.15px" fill="#000">5000</text>
<text stroke="#000" x="958.35" y="594.0" text-anchor="end" style="font-family:'Liberation Sans',sans-serif;font-size:10px;letter-spacing:-0.15px" fill="#000">10000</text>
<text stroke="#000" x="924" y="620" style="font-family:'Liberation Sans',sans-serif;font-size:7px" fill="#000">x100</text>
<text stroke="#000" x="2" y="638" style="font-family:'Liberation Sans',sans-serif;font-size:10px" fill="#000">2001</text>
<text stroke="#000" x="49" y="638" style="font-family:'Liberation Sans',sans-serif;font-size:10px" fill="#000">Jun</text>
<text stroke="#000" x="85" y="638" style="font-family:'Liberation Sans',sans-serif;font-size:10px" fill="#000">Jul</text>
<text stroke="#000" x="124" y="638" style="font-family:'Liberation Sans',sans-serif;font-size:10px" fill="#000">Aug</text>
<text stroke="#000" x="164" y="638" style="font-family:'Liberation Sans',sans-serif;font-size:10px" fill="#000">Sep</text>
<text stroke="#000" x="200" y="638" style="font-family:'Liberation Sans',sans-serif;font-size:10px" fill="#000">Oct</text>
<text stroke="#000" x="240" y="638" style="font-family:'Liberation Sans',sans-serif;font-size:10px" fill="#000">Nov</text>
<text stroke="#000" x="278" y="638" style="font-family:'Liberation Sans',sans-serif;font-size:10px" fill="#000">Dec</text>
<text stroke="#000" x="308" y="638" style="font-family:'Liberation Sans',sans-serif;font-size:10px" fill="#000">2002</text>
<text stroke="#000" x="348" y="638" style="font-family:'Liberation Sans',sans-serif;font-size:10px" fill="#000">Feb</text>
<text stroke="#000" x="383" y="638" style="font-family:'Liberation Sans',sans-serif;font-size:10px" fill="#000">Mar</text>
<text stroke="#000" x="418" y="638" style="font-family:'Liberation Sans',sans-serif;font-size:10px" fill="#000">Apr</text>
<text stroke="#000" x="454" y="638" style="font-family:'Liberation Sans',sans-serif;font-size:10px" fill="#000">May</text>
<text stroke="#000" x="492" y="638" style="font-family:'Liberation Sans',sans-serif;font-size:10px" fill="#000">Jun</text>
<text stroke="#000" x="526" y="638" style="font-family:'Liberation Sans',sans-serif;font-size:10px" fill="#000">Jul</text>
<text stroke="#000" x="565" y="638" style="font-family:'Liberation Sans',sans-serif;font-size:10px" fill="#000">Aug</text>
<text stroke="#000" x="602" y="638" style="font-family:'Liberation Sans',sans-serif;font-size:10px" fill="#000">Sep</text>
<text stroke="#000" x="640" y="638" style="font-family:'Liberation Sans',sans-serif;font-size:10px" fill="#000">Oct</text>
<text stroke="#000" x="681" y="638" style="font-family:'Liberation Sans',sans-serif;font-size:10px" fill="#000">Nov</text>
<text stroke="#000" x="717" y="638" style="font-family:'Liberation Sans',sans-serif;font-size:10px" fill="#000">Dec</text>
<text stroke="#000" x="752" y="638" style="font-family:'Liberation Sans',sans-serif;font-size:10px" fill="#000">2003</text>
<text stroke="#000" x="792" y="638" style="font-family:'Liberation Sans',sans-serif;font-size:10px" fill="#000">Feb</text>
<text stroke="#000" x="828" y="638" style="font-family:'Liberation Sans',sans-serif;font-size:10px" fill="#000">Mar</text>
<text stroke="#000" x="865" y="638" style="font-family:'Liberation Sans',sans-serif;font-size:10px" fill="#000">Apr</text>
<text stroke="#000" x="901" y="638" style="font-family:'Liberation Sans',sans-serif;font-size:10px" fill="#000">May</text>
<text stroke="#000" x="386.5" y="12.6" style="font-family:'Liberation Sans',sans-serif;font-size:10px" fill="#000">Relative Strength Index(85.3138)</text>
<text stroke="#000" x="311.7" y="137.6" style="font-family:'Liberation Sans',sans-serif;font-size:10px" fill="#000" textLength="81" lengthAdjust="spacing">1 PT MULTIMEDIA</text>
<text stroke="#000" x="392.8" y="137.6" style="font-family:'Liberation Sans',sans-serif;font-size:10px" fill="#000" textLength="217" lengthAdjust="spacing">(13.9100, 14.9700, 13.9000, 14.8500, +0.80000)</text>
<text stroke="#000" x="420.5" y="585.8" textLength="80" lengthAdjust="spacing" style="font-family:'Liberation Sans',sans-serif;font-size:10px" fill="#000">Volume (518,054)</text>
<text stroke="#0000ff" x="568" y="148.3" style="font-family:'Liberation Sans',sans-serif;font-size:10px;letter-spacing:-0.4px" fill="#0000ff">16.95</text>
<text stroke="#ff00ff" x="565" y="275.3" style="font-family:'Liberation Sans',sans-serif;font-size:10px;letter-spacing:-0.3px" fill="#ff00ff">12.84</text>
<text stroke="#0000ff" x="567.5" y="365.3" style="font-family:'Liberation Sans',sans-serif;font-size:10px;letter-spacing:0px" fill="#0000ff">9.93</text>
<text stroke="#ff00ff" x="568.5" y="497.3" style="font-family:'Liberation Sans',sans-serif;font-size:10px;letter-spacing:0px" fill="#ff00ff">5.82</text>
</g>
</svg>
</body></html>
